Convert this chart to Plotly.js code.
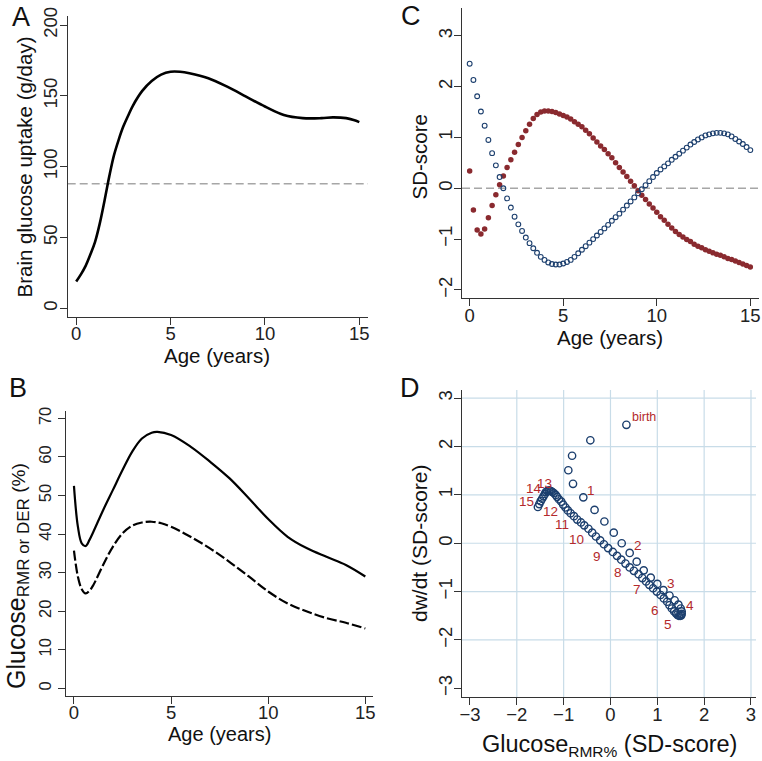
<!DOCTYPE html>
<html>
<head>
<meta charset="utf-8">
<script src="https://cdn.plot.ly/plotly-3.0.1.min.js"></script>
<style>html,body{margin:0;padding:0;background:#fff}#chart{width:762px;height:761px}</style>
</head>
<body>
<div id="chart"></div>
<script>
// ---------- Panel A: brain glucose uptake (g/day) ----------
const ageA = [0,0.25,0.5,0.75,1,1.25,1.5,1.75,2,2.25,2.5,2.75,3,3.5,4,4.5,5,5.5,6,7,8,9,10,11,12,13,13.6,14.3,14.7,15];
const uptakeA = [19,24,30,38,47,60,76,93,108,119,128.5,136,143,153.5,160.5,165,167,167,166,162.5,156.5,149.5,142.5,136.5,134.3,134.3,134.8,134.3,133,131.5];
const refLineA = 88;

// ---------- Panel B: Glucose RMR / DER (%) ----------
const ageB = [0,0.2,0.4,0.6,0.8,1,1.5,2,2.5,3,3.5,4,4.3,5,6,7,8,9,10,11,12,13,14,15];
const glucoseRMR = [52.5,42,37.6,36.9,38.5,40.6,46.2,51.4,56.6,61.4,64.8,66.3,66.5,65.7,62.7,58.8,54.5,49.3,43.9,39.3,36.3,34.1,32,29];
const ageBd = [0,0.2,0.4,0.6,0.8,1,1.5,2,2.5,3,3.5,4,4.5,5,6,7,8,9,10,11,12,13,14,15];
const glucoseDER = [35.7,29,25.7,24.6,25.3,26.8,32,36.7,40.2,42.2,43,43.2,42.8,41.9,39.3,36.3,32.8,29,25.1,22,19.9,18.2,17,15.5];

// ---------- Panels C & D: SD-scores ----------
const ageC = [0,0.2,0.4,0.6,0.8,1,1.2,1.4,1.6,1.8,2,2.2,2.4,2.6,2.8,3,3.2,3.4,3.6,3.8,
  4,4.2,4.4,4.6,4.8,5,5.2,5.4,5.6,5.8,6,6.2,6.4,6.6,6.8,7,7.2,7.4,7.6,7.8,
  8,8.2,8.4,8.6,8.8,9,9.2,9.4,9.6,9.8,10,10.2,10.4,10.6,10.8,11,11.2,11.4,11.6,11.8,
  12,12.2,12.4,12.6,12.8,13,13.2,13.4,13.6,13.8,14,14.2,14.4,14.6,14.8,15];
// dw/dt SD-score (navy hollow circles)
const dwdtSD = [2.45,2.13,1.81,1.51,1.23,0.95,0.69,0.45,0.22,0.0,-0.2,-0.38,-0.56,-0.71,-0.84,-0.97,-1.08,-1.18,-1.27,-1.35,
  -1.41,-1.46,-1.49,-1.5,-1.5,-1.48,-1.45,-1.41,-1.35,-1.28,-1.21,-1.14,-1.07,-1.0,-0.93,-0.86,-0.79,-0.72,-0.64,-0.57,
  -0.5,-0.42,-0.34,-0.26,-0.18,-0.1,-0.02,0.06,0.14,0.22,0.3,0.37,0.43,0.49,0.56,0.62,0.68,0.74,0.8,0.86,
  0.91,0.96,1.0,1.04,1.06,1.08,1.09,1.09,1.08,1.06,1.02,0.97,0.92,0.87,0.81,0.75];
// Glucose RMR% SD-score (maroon filled dots)
const glucoseSD = [0.34,-0.43,-0.82,-0.9,-0.8,-0.58,-0.34,-0.13,0.07,0.24,0.41,0.56,0.71,0.86,1.0,1.13,1.26,1.37,1.45,1.5,
  1.52,1.52,1.51,1.49,1.46,1.43,1.4,1.36,1.31,1.26,1.21,1.14,1.07,0.99,0.91,0.83,0.76,0.68,0.6,0.5,
  0.41,0.32,0.23,0.14,0.05,-0.05,-0.14,-0.22,-0.31,-0.39,-0.47,-0.56,-0.63,-0.71,-0.78,-0.85,-0.91,-0.96,-1.01,-1.05,
  -1.1,-1.14,-1.17,-1.21,-1.24,-1.27,-1.3,-1.32,-1.35,-1.38,-1.4,-1.43,-1.46,-1.49,-1.52,-1.55];

// Panel D point labels (age in years)
const labelAges = [0,1,2,3,4,5,6,7,8,9,10,11,12,13,14,15];
const labelTexts = ['birth','1','2','3','4','5','6','7','8','9','10','11','12','13','14','15'];
const labelDx = [4,8,8,8,8,-9,-12,-12,-12,-11,-12,-9,-8,-6,-11,-11];
const labelDy = [8,7,7,7,6,-10,-9,-5,-5,-8,-11,-11,-12,8,5,6];

const ticksA_x = [0,5,10,15], ticksA_y = [0,50,100,150,200];
const ticksB_y = [0,10,20,30,40,50,60,70];
const ticksC_y = [-2,-1,0,1,2,3];
const ticksD = [-3,-2,-1,0,1,2,3];
const gridD = [-2,-1,0,1,2,3];

const FONT = 'Liberation Sans, Arial, sans-serif';
const NAVY = '#1c3f6e', MAROON = '#8a2a2f', LABELRED = '#b3292c';

const axBase = {
  showline:true, linecolor:'#333', linewidth:1, mirror:false,
  ticks:'outside', ticklen:7, tickwidth:1, tickcolor:'#333',
  showgrid:false, zeroline:false,
  tickfont:{family:FONT, size:18.5, color:'#222'}
};
function ax(extra){ return Object.assign({}, JSON.parse(JSON.stringify(axBase)), extra); }

const traces = [
  {x:ageA, y:uptakeA, xaxis:'x', yaxis:'y', mode:'lines', line:{color:'#000', width:2.6, shape:'spline'}, hoverinfo:'skip'},
  {x:ageC, y:glucoseSD, xaxis:'x2', yaxis:'y2', mode:'markers', marker:{color:MAROON, size:5.5, line:{width:0}}},
  {x:ageC, y:dwdtSD, xaxis:'x2', yaxis:'y2', mode:'markers', marker:{color:'rgba(0,0,0,0)', size:4.8, line:{color:NAVY, width:1.1}}},
  {x:ageB, y:glucoseRMR, xaxis:'x3', yaxis:'y3', mode:'lines', line:{color:'#000', width:2.2, shape:'spline'}},
  {x:ageBd, y:glucoseDER, xaxis:'x3', yaxis:'y3', mode:'lines', line:{color:'#000', width:2.2, shape:'spline', dash:'10px,3px'}},
  {x:glucoseSD, y:dwdtSD, xaxis:'x4', yaxis:'y4', mode:'markers', marker:{color:'rgba(0,0,0,0)', size:7.3, line:{color:NAVY, width:1.4}}}
];

const shapes = [
  {type:'line', xref:'x domain', yref:'y', x0:0, x1:1, y0:refLineA, y1:refLineA, line:{color:'#a6a6a6', width:1.6, dash:'8px,4px'}, layer:'below'},
  {type:'line', xref:'x2 domain', yref:'y2', x0:0, x1:1, y0:0, y1:0, line:{color:'#a6a6a6', width:1.6, dash:'8px,4px'}, layer:'below'}
];
gridD.forEach(v => {
  shapes.push({type:'line', xref:'x4', yref:'y4 domain', x0:v, x1:v, y0:0, y1:1, line:{color:'#c8dce8', width:1.2}, layer:'below'});
  shapes.push({type:'line', xref:'x4 domain', yref:'y4', x0:0, x1:1, y0:v, y1:v, line:{color:'#c8dce8', width:1.2}, layer:'below'});
});

const W = 762, H = 761;
function px(x){ return x / W; }
function py(y){ return 1 - y / H; }

const annotations = [];
function txt(text, x, y, size, angle){
  annotations.push({text:text, xref:'paper', yref:'paper', x:px(x), y:py(y), showarrow:false,
    xanchor:'center', yanchor:'middle', textangle:angle||0, font:{family:FONT, size:size, color:'#111'}});
}
// panel letters
txt('A', 21, 17, 27);
txt('C', 411, 16, 27);
txt('B', 18, 388, 27);
txt('D', 410, 388, 27);
// axis titles
txt('Brain glucose uptake (g/day)', 23.5, 167, 20.5, -90);
txt('Age (years)', 217, 355.5, 20.5);
txt('SD-score', 418.5, 157, 20.5, -90);
txt('Age (years)', 610, 337, 20.5);
txt('<span style="font-size:25px">Glucose</span><sub><span style="font-size:17px">RMR or DER</span></sub> (%)', 17, 576, 19, -90);
txt('Age (years)', 219, 734, 20);
txt('dw/dt (SD-score)', 419, 543, 21, -90);
txt('Glucose<sub><span style="font-size:15.5px">RMR%</span></sub> (SD-score)', 609, 745, 23.5);

// panel D point labels, anchored on the data points
labelAges.forEach((a, k) => {
  const i = ageC.indexOf(a);
  annotations.push({text:labelTexts[k], xref:'x4', yref:'y4', x:glucoseSD[i], y:dwdtSD[i], showarrow:false,
    xanchor: k === 0 ? 'left' : 'center', yanchor:'middle', xshift:labelDx[k], yshift:labelDy[k],
    font:{family:FONT, size: k === 0 ? 12.5 : 13.5, color:LABELRED}});
});

const layout = {
  width:W, height:H, margin:{l:0,r:0,t:0,b:0,pad:0},
  paper_bgcolor:'#fff', plot_bgcolor:'rgba(0,0,0,0)', showlegend:false,
  xaxis: ax({domain:[px(67.7), px(368)], range:[-0.45,15.46], tickvals:ticksA_x, anchor:'y', ticklabelstandoff:-7}),
  yaxis: ax({domain:[py(316.7), py(15.7)], range:[-5.9,206.6], tickvals:ticksA_y, tickangle:-90, anchor:'x', ticklabelstandoff:-5}),
  xaxis2: ax({domain:[px(462), px(759.3)], range:[-0.41,15.48], tickvals:ticksA_x, anchor:'y2', ticklabelstandoff:-7}),
  yaxis2: ax({domain:[py(298.3), py(8.3)], range:[-2.165,3.54], tickvals:ticksC_y, tickangle:-90, anchor:'x2', ticklabelstandoff:-5}),
  xaxis3: ax({domain:[px(66), px(372.7)], range:[-0.41,15.38], tickvals:ticksA_x, anchor:'y3', ticklabelstandoff:-7}),
  yaxis3: ax({domain:[py(696), py(410.7)], range:[-2.0,72.0], tickvals:ticksB_y, tickangle:-90, anchor:'x3', tickfont:{family:FONT,size:16.5,color:'#222'}}),
  xaxis4: ax({domain:[px(462), px(756)], range:[-3.17,3.107], tickvals:ticksD, anchor:'y4', ticklabelstandoff:-7}),
  yaxis4: ax({domain:[py(697.3), py(390)], range:[-3.186,3.17], tickvals:ticksD, tickangle:-90, anchor:'x4', ticklabelstandoff:-5}),
  shapes:shapes, annotations:annotations
};

Plotly.newPlot('chart', traces, layout, {staticPlot:true, displayModeBar:false});
</script>
</body>
</html>
